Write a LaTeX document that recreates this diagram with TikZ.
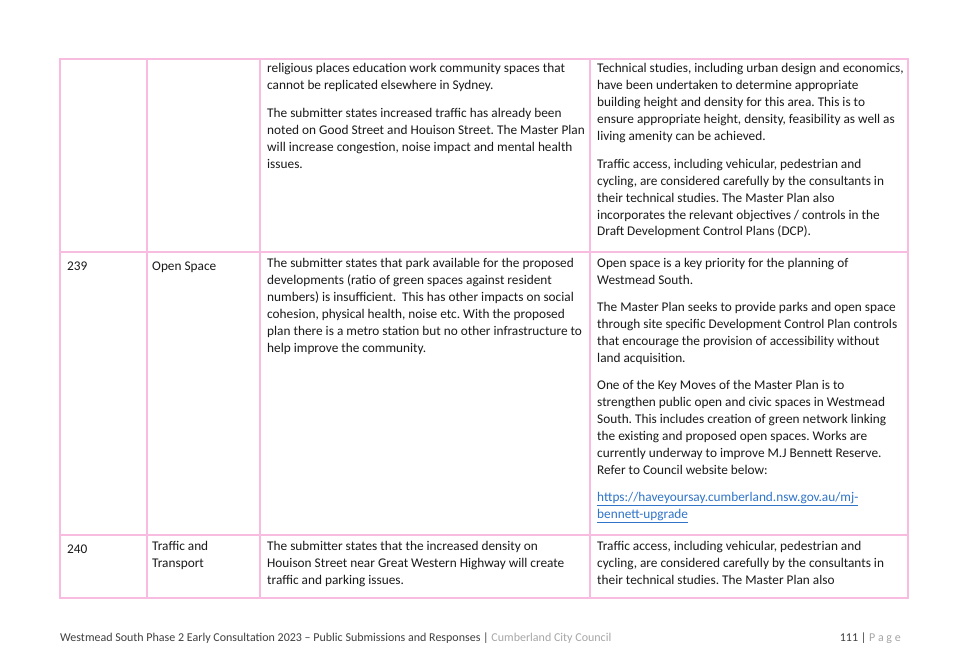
\documentclass[tikz,border=0pt]{standalone}
\usepackage{fontspec}
\setmainfont{Carlito}
\usepackage{tikz}
\definecolor{rule}{HTML}{F7BCDF}
\definecolor{body}{HTML}{1A1A1A}
\definecolor{foot}{HTML}{404040}
\definecolor{faint}{HTML}{A6A6A6}
\definecolor{link}{HTML}{2F74C9}
\frenchspacing
\tikzset{
  line/.style={draw=rule, line width=1.4pt},
  cell/.style={anchor=north west, inner sep=0pt, align=left, text=body,
    font=\fontsize{13.3}{16.95}\selectfont, execute at begin node=\strut},
  ftr/.style={inner sep=0pt, text=foot, font=\fontsize{12}{14}\selectfont}
}
\begin{document}
\begin{tikzpicture}[x=1pt,y=-1pt]
  \useasboundingbox (0,0) rectangle (956,660);
  \fill[white] (0,0) rectangle (956,660);

  % table rules
  \draw[line] (60,59) rectangle (908,598);
  \foreach \x in {147,260,590} \draw[line] (\x,59) -- (\x,598);
  \foreach \y in {252,535} \draw[line] (60,\y) -- (908,\y);

  % row continued from previous page (strut top = baseline - 11.9)
  \node[cell] (subA) at (267,63) {religious places education work community spaces that\\
    cannot be replicated elsewhere in Sydney.\\[11pt]
    The submitter states increased traffic has already been\\
    noted on Good Street and Houison Street. The Master Plan\\
    will increase congestion, noise impact and mental health\\
    issues.};
  \node[cell] (resA) at (597,63) {Technical studies, including urban design and economics,\\
    have been undertaken to determine appropriate\\
    building height and density for this area. This is to\\
    ensure appropriate height, density, feasibility as well as\\
    living amenity can be achieved.\\[11pt]
    Traffic access, including vehicular, pedestrian and\\
    cycling, are considered carefully by the consultants in\\
    their technical studies. The Master Plan also\\
    incorporates the relevant objectives / controls in the\\
    Draft Development Control Plans (DCP).};

  % row 239
  \node[cell] (idB) at (67,258.5) {239};
  \node[cell] (topicB) at (152,258.5) {Open Space};
  \node[cell] (subB) at (267,258.5) {The submitter states that park available for the proposed\\
    developments (ratio of green spaces against resident\\
    numbers) is insufficient.\ \ This has other impacts on social\\
    cohesion, physical health, noise etc. With the proposed\\
    plan there is a metro station but no other infrastructure to\\
    help improve the community.};
  \node[cell] (resB) at (597,258.5) {Open space is a key priority for the planning of\\
    Westmead South.\\[10pt]
    The Master Plan seeks to provide parks and open space\\
    through site specific Development Control Plan controls\\
    that encourage the provision of accessibility without\\
    land acquisition.\\[10pt]
    One of the Key Moves of the Master Plan is to\\
    strengthen public open and civic spaces in Westmead\\
    South. This includes creation of green network linking\\
    the existing and proposed open spaces. Works are\\
    currently underway to improve M.J Bennett Reserve.\\
    Refer to Council website below:\\[10pt]
    {\color{link}\underline{https://haveyoursay.cumberland.nsw.gov.au/mj-}}\\
    {\color{link}\underline{bennett-upgrade}}};

  % row 240
  \node[cell] (idC) at (67,541.5) {240};
  \node[cell] (topicC) at (152,541.5) {Traffic and\\Transport};
  \node[cell] (subC) at (267,541.5) {The submitter states that the increased density on\\
    Houison Street near Great Western Highway will create\\
    traffic and parking issues.};
  \node[cell] (resC) at (597,541.5) {Traffic access, including vehicular, pedestrian and\\
    cycling, are considered carefully by the consultants in\\
    their technical studies. The Master Plan also};

  % footer
  \node[ftr, anchor=base west] (title) at (60,641) {Westmead South Phase 2 Early Consultation 2023 – Public Submissions and Responses | {\color{faint}Cumberland City Council}};
  \node[ftr, anchor=base east] (page) at (901,641) {111 | {\color{faint}P a g e}};
\end{tikzpicture}
\end{document}
